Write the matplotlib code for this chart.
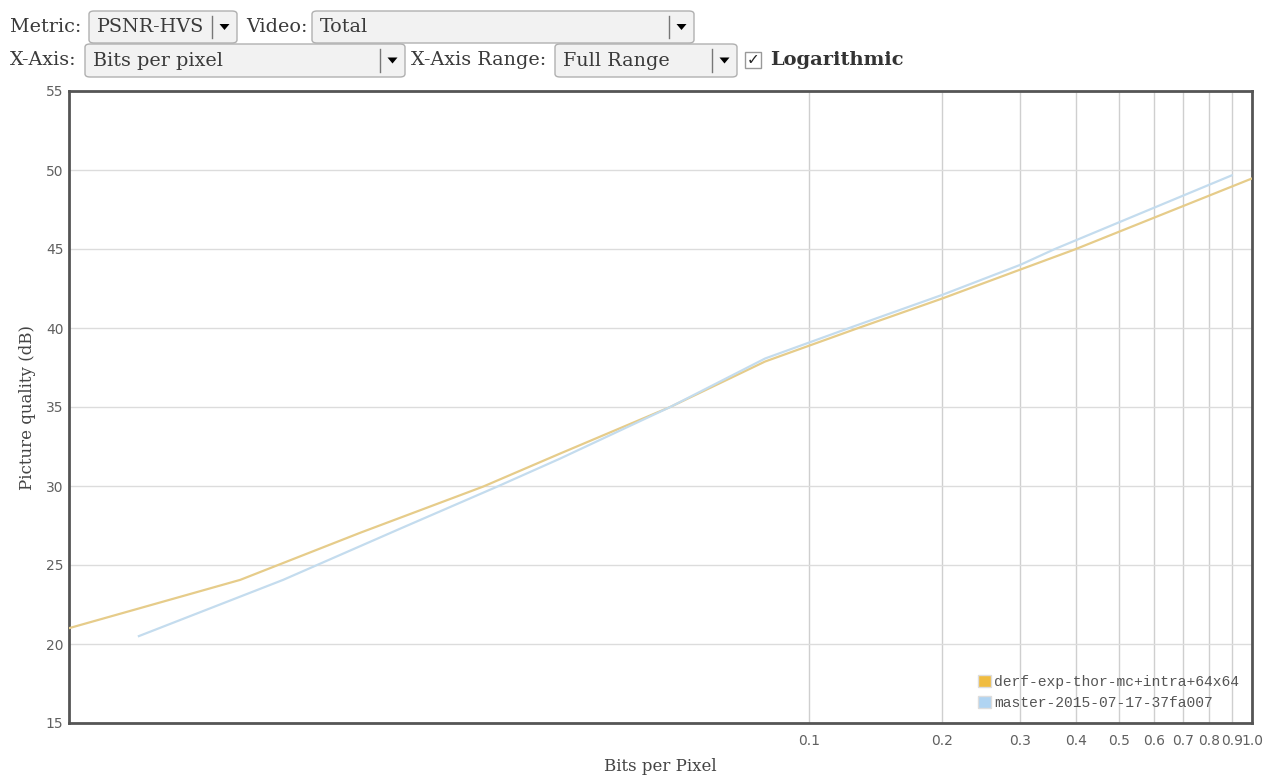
import matplotlib
matplotlib.use("Agg")
import matplotlib.pyplot as plt
from matplotlib.patches import FancyBboxPatch, Rectangle, Patch, Polygon
from matplotlib.ticker import FixedLocator, FixedFormatter, NullLocator

# ---- data ----
derf_bpp = [0.0019, 0.00520, 0.0097, 0.01837, 0.0274, 0.0486, 0.0796, 0.1283, 0.2, 0.3, 0.398, 1.1]
derf_db = [20.6, 24.06, 27.04, 29.96, 32.05, 35.0, 37.88, 39.97, 41.87, 43.7, 44.97, 49.93]

master_bpp = [0.00307, 0.0065, 0.01194, 0.01977, 0.0274, 0.0486, 0.0796, 0.1224, 0.2, 0.3, 0.359, 0.90]
master_db = [20.5, 24.06, 27.3, 29.96, 31.73, 35.0, 38.07, 39.97, 42.1, 44.0, 45.0, 49.66]

series_names = ["derf-exp-thor-mc+intra+64x64", "master-2015-07-17-37fa007"]
series_colors = ["#f0bc40", "#b0d4f2"]
line_colors = ["#e6cc8a", "#c4dcee"]

xticks = [0.1, 0.2, 0.3, 0.4, 0.5, 0.6, 0.7, 0.8, 0.9, 1.0]
xtick_labels = ["0.1", "0.2", "0.3", "0.4", "0.5", "0.6", "0.7", "0.8", "0.9", "1.0"]
yticks = [15, 20, 25, 30, 35, 40, 45, 50, 55]

W, H = 1267, 780
fig = plt.figure(figsize=(W / 100, H / 100), dpi=100)

def fx(px):
    return px / W

def fy(py):
    return 1 - py / H

# ---- axes ----
left, right, top, bottom = 69, 1252, 91, 723
ax = fig.add_axes([fx(left), fy(bottom), fx(right) - fx(left), fy(top) - fy(bottom)])
ax.set_xscale("log")
ax.set_xlim(0.002135, 1.0)
ax.set_ylim(15, 55)

ax.plot(derf_bpp, derf_db, color=line_colors[0], lw=1.6, zorder=3)
ax.plot(master_bpp, master_db, color=line_colors[1], lw=1.6, zorder=3)

ax.xaxis.set_major_locator(FixedLocator(xticks))
ax.xaxis.set_major_formatter(FixedFormatter(xtick_labels))
ax.xaxis.set_minor_locator(NullLocator())
ax.set_yticks(yticks)
ax.tick_params(axis="both", length=0, labelsize=10, labelcolor="#606060", pad=8)
ax.tick_params(axis="y", pad=4)
ax.grid(True, axis="y", color="#dcdcdc", lw=1)
ax.grid(True, axis="x", color="#cfcfcf", lw=1)
ax.set_axisbelow(True)
for s in ax.spines.values():
    s.set_color("#555555")
    s.set_linewidth(2)

ax.set_ylabel("Picture quality (dB)", family="DejaVu Serif", fontsize=12, color="#444444", labelpad=7)
ax.set_xlabel("Bits per Pixel", family="DejaVu Serif", fontsize=12, color="#444444", labelpad=7)

handles = [Patch(facecolor=series_colors[0], edgecolor="#dddddd"),
           Patch(facecolor=series_colors[1], edgecolor="#dddddd")]
leg = ax.legend(handles, series_names, loc="lower right", frameon=False,
                prop={"family": "Liberation Mono", "size": 10.5},
                handlelength=0.9, handleheight=0.9, handletextpad=0.2,
                labelspacing=0.45, borderaxespad=0.5)
for t in leg.get_texts():
    t.set_color("#555555")

# ---- header widgets ----
hdr_font = dict(family="DejaVu Serif", fontsize=13.8, color="#3a3a3a", va="center")

def dropdown(x0, x1, y0, y1, label, divx):
    box = FancyBboxPatch((fx(x0), fy(y1)), fx(x1) - fx(x0), fy(y0) - fy(y1),
                         boxstyle="round,pad=0,rounding_size=0.004",
                         transform=fig.transFigure, facecolor="#f2f2f2",
                         edgecolor="#b0b0b0", lw=1)
    fig.patches.append(box)
    fig.add_artist(plt.Line2D([fx(divx), fx(divx)], [fy(y0 + 5), fy(y1 - 5)],
                              color="#777777", lw=1, transform=fig.transFigure))
    ax_c = (divx + x1) / 2
    cy = (y0 + y1) / 2
    tri = Polygon([(fx(ax_c - 5), fy(cy - 3)), (fx(ax_c + 5), fy(cy - 3)), (fx(ax_c), fy(cy + 3))],
                  closed=True, transform=fig.transFigure, facecolor="black", edgecolor="none")
    fig.patches.append(tri)
    fig.text(fx(x0 + 8), fy(cy), label, **hdr_font)

fig.text(fx(10), fy(27), "Metric:", **hdr_font)
dropdown(89, 237, 11, 43, "PSNR-HVS", 212)
fig.text(fx(246), fy(27), "Video:", **hdr_font)
dropdown(312, 694, 11, 43, "Total", 669)

fig.text(fx(10), fy(60), "X-Axis:", **hdr_font)
dropdown(85, 405, 44, 77, "Bits per pixel", 380)
fig.text(fx(411), fy(60), "X-Axis Range:", **hdr_font)
dropdown(555, 737, 44, 77, "Full Range", 712)

cb = Rectangle((fx(745), fy(68)), fx(761) - fx(745), fy(52) - fy(68), transform=fig.transFigure,
               facecolor="white", edgecolor="#999999", lw=1)
fig.patches.append(cb)
fig.text(fx(753), fy(60), "\u2713", family="DejaVu Sans", fontsize=11, color="#222222",
         ha="center", va="center")
fig.text(fx(770), fy(60), "Logarithmic", family="DejaVu Serif", fontsize=14,
         fontweight="bold", color="#333333", va="center")

fig.savefig("out.png", dpi=100, facecolor="white")
